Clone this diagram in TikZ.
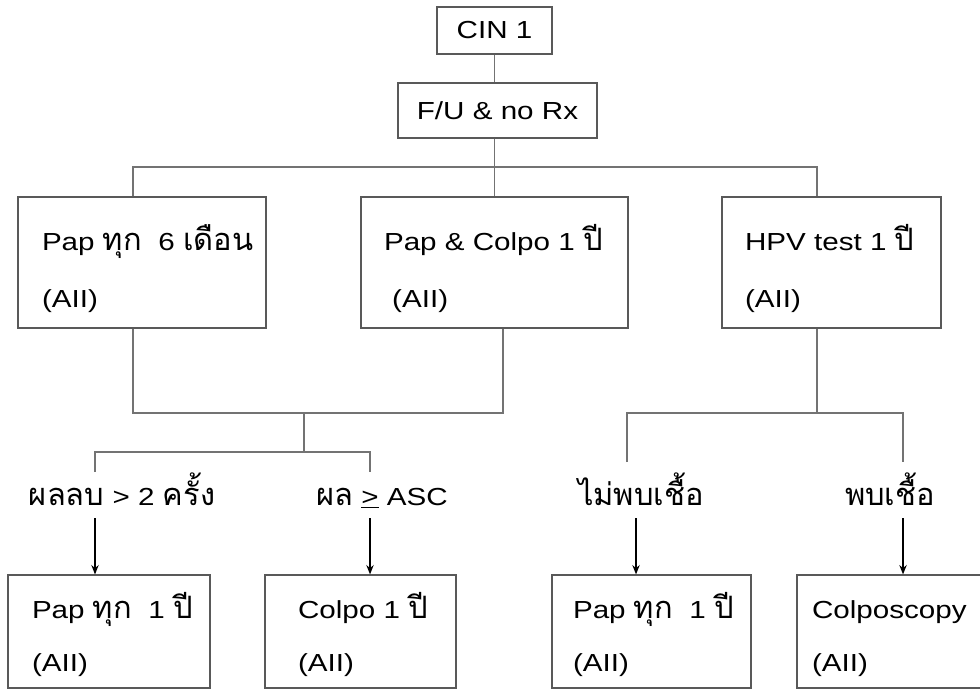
\documentclass[tikz,border=0pt]{standalone}
\usepackage{fontspec}
\setmainfont{Liberation Sans}[FakeStretch=1.2]
\newfontfamily\thaifont[Script=Thai,Scale=1.25]{Loma}
\newcommand\tha[1]{{\thaifont #1}}
\usetikzlibrary{arrows.meta,positioning}

\tikzset{every picture/.style={line width=0.75pt}}
\tikzset{
  topbox/.style={draw=black!65, line width=0.9pt, align=center,
    font=\fontsize{18.5}{22}\selectfont},
  rxbox/.style={draw=black!65, line width=0.9pt, align=left, inner ysep=0pt,
    minimum height=98.25pt, font=\fontsize{18.5}{42.75}\selectfont,
    execute at begin node={\rule{0pt}{28.5pt}},
    execute at end node={\rule[-4.5pt]{0pt}{4.5pt}}},
  lowbox/.style={draw=black!65, line width=0.9pt, align=left, inner ysep=0pt,
    minimum height=84.75pt, font=\fontsize{18.5}{39.75}\selectfont,
    execute at begin node={\rule{0pt}{24pt}},
    execute at end node={\rule[-4.5pt]{0pt}{4.5pt}}},
  rxlabel/.style={inner sep=0pt, anchor=base, font=\fontsize{18.5}{22}\selectfont},
  link/.style={draw=black!55, line width=0.8pt},
  arr/.style={draw=black, line width=1.1pt, -{Stealth[length=7pt,width=5.5pt]}}
}

\begin{document}
\begin{tikzpicture}[x=0.75pt,y=0.75pt,yscale=-1,xscale=1]
\useasboundingbox (0,0) rectangle (980,689);

%Shape: Rectangle
\node[topbox, minimum width=86.25pt, minimum height=35.25pt] (cin) at (494.5,30.5) {CIN 1};
%Shape: Rectangle
\node[topbox, minimum width=149.25pt, minimum height=41.25pt] (fu) at (497.5,110.5) {F/U \& no Rx};

%Shape: Rectangle
\node[rxbox, inner xsep=18pt, text width=150pt] (pap6) at (142,262.5)
  {Pap~\tha{ทุก}~~6~\tha{เดือน}\\(AII)};
%Shape: Rectangle
\node[rxbox, inner xsep=17.25pt, text width=165.75pt] (papcol) at (494.5,262.5)
  {Pap~\&~Colpo~1~\tha{ปี}\\\ (AII)};
%Shape: Rectangle
\node[rxbox, inner xsep=17.25pt, text width=129.75pt] (hpv) at (831.5,262.5)
  {HPV~test~1~\tha{ปี}\\(AII)};

%Shape: Rectangle
\node[lowbox, inner xsep=18pt, text width=115.5pt] (pap1) at (109,631.5)
  {Pap~\tha{ทุก}~~1~\tha{ปี}\\(AII)};
%Shape: Rectangle
\node[lowbox, inner xsep=24.75pt, text width=93.75pt] (colpo) at (360.5,631.5)
  {Colpo~1~\tha{ปี}\\(AII)};
%Shape: Rectangle
\node[lowbox, inner xsep=15.75pt, text width=117.75pt] (pap1b) at (651.5,631.5)
  {Pap~\tha{ทุก}~~1~\tha{ปี}\\(AII)};
%Shape: Rectangle
\node[lowbox, inner xsep=11.25pt, text width=122.25pt] (colposc) at (893.5,631.5)
  {Colposcopy\\(AII)};

% Text Node
\node[rxlabel] (neg2) at (122,505) {\tha{ผลลบ} > 2 \tha{ครั้ง}};
% Text Node
\node[rxlabel] (asc) at (382,505) {\tha{ผล} \underline{>} ASC};
% Text Node
\node[rxlabel] (noinf) at (641,505) {\tha{ไม่พบเชื้อ}};
% Text Node
\node[rxlabel] (inf) at (890,505) {\tha{พบเชื้อ}};

%Straight Lines
\draw[link] (cin) -- (cin |- fu.north);
\draw[link] (fu.south -| papcol.north) -- (papcol.north);
\coordinate (b1) at (133,167);
\coordinate (b3) at (817,167);
\draw[link] (b1 |- pap6.north) -- (b1) -- (b3) -- (b3 |- hpv.north);

%Straight Lines
\coordinate (c1) at (133,413);
\coordinate (c2) at (503,413);
\coordinate (c3) at (304,413);
\coordinate (d1) at (95,452);
\coordinate (d2) at (370,452);
\coordinate (e1) at (95,472);
\coordinate (e2) at (370,472);
\draw[link] (c1 |- pap6.south) -- (c1) -- (c2) -- (c2 |- papcol.south);
\draw[link] (c3) -- (c3 |- d1);
\draw[link] (e1) -- (d1) -- (d2) -- (e2);

%Straight Lines
\coordinate (g0) at (817,413);
\coordinate (g1) at (627,413);
\coordinate (g2) at (903,413);
\coordinate (h1) at (627,462);
\coordinate (h2) at (903,462);
\draw[link] (g0 |- hpv.south) -- (g0);
\draw[link] (h1) -- (g1) -- (g2) -- (h2);

%Arrows
\coordinate (f1) at (95,518);
\coordinate (f2) at (370,518);
\coordinate (f3) at (636,518);
\coordinate (f4) at (903,518);
\draw[arr] (f1) -- (f1 |- pap1.north);
\draw[arr] (f2) -- (f2 |- colpo.north);
\draw[arr] (f3) -- (f3 |- pap1b.north);
\draw[arr] (f4) -- (f4 |- colposc.north);

\end{tikzpicture}
\end{document}
